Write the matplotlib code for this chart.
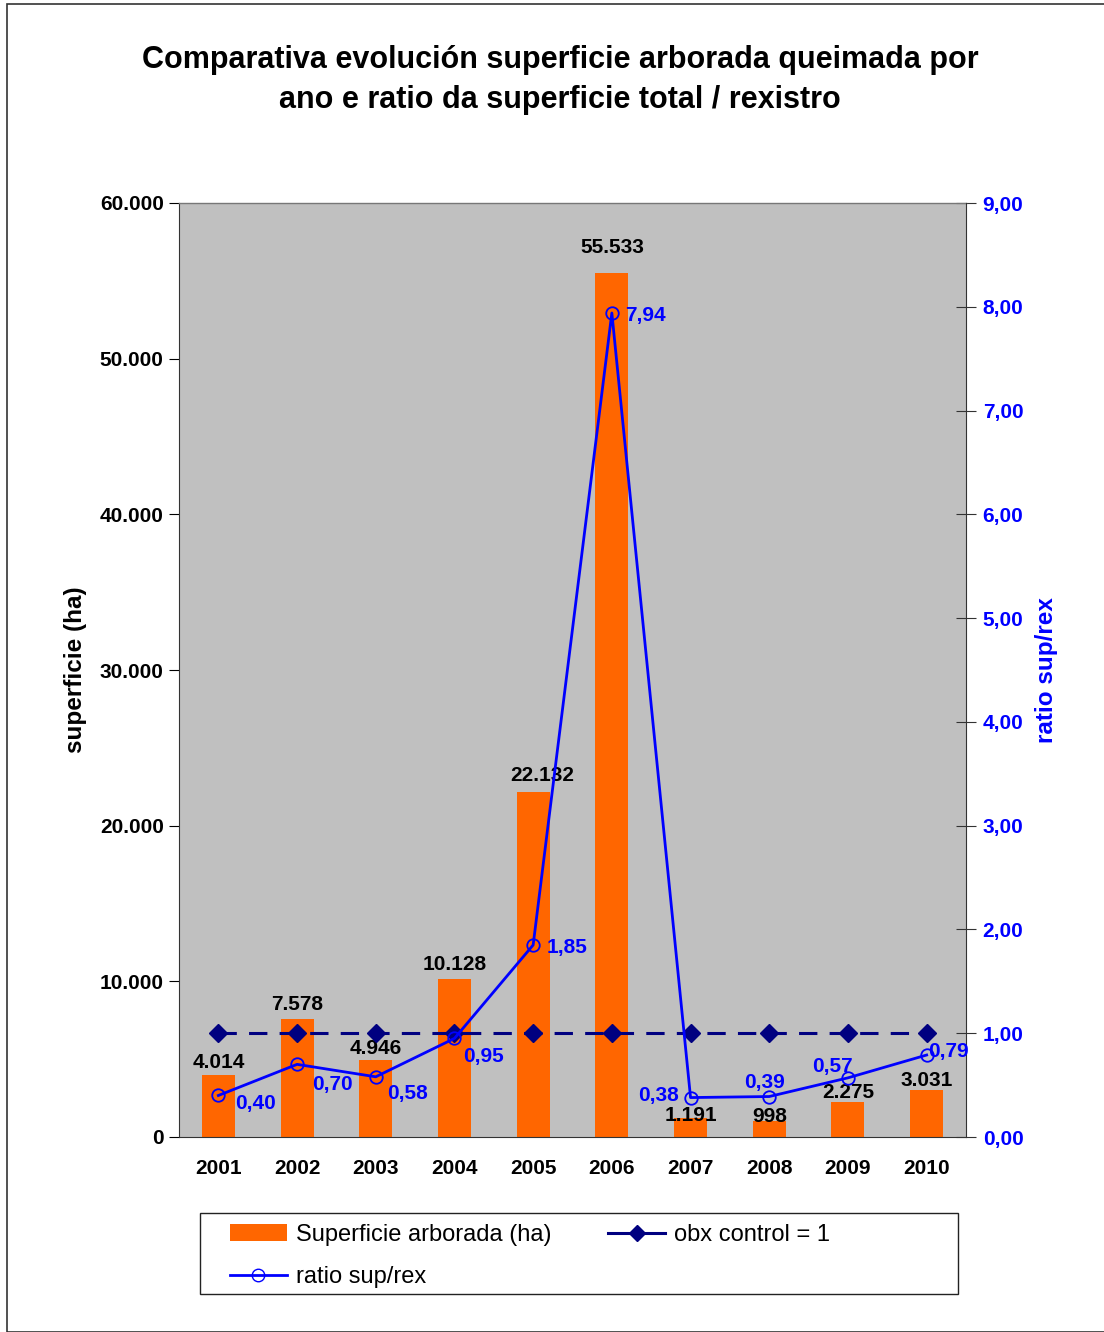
import matplotlib
matplotlib.use("Agg")
import matplotlib.pyplot as plt
from matplotlib.lines import Line2D
from matplotlib.patches import Rectangle

plt.rcParams['font.family'] = ['Liberation Sans', 'DejaVu Sans']

years = ['2001', '2002', '2003', '2004', '2005', '2006', '2007', '2008', '2009', '2010']
superficie = [4014, 7578, 4946, 10128, 22132, 55533, 1191, 998, 2275, 3031]
ratio = [0.40, 0.70, 0.58, 0.95, 1.85, 7.94, 0.38, 0.39, 0.57, 0.79]
control = [1, 1, 1, 1, 1, 1, 1, 1, 1, 1]
left_ticks = [0, 10000, 20000, 30000, 40000, 50000, 60000]
right_ticks = [0, 1, 2, 3, 4, 5, 6, 7, 8, 9]

# label offsets in pixels (style only)
ratio_offsets = [(37, -8), (35, -20), (32, -17), (29, -18), (34, -2),
                 (34, -2), (-32, 2), (-5, 14), (-16, 11), (22, 4)]
bar_label_offsets = [(0, 12), (0, 15), (0, 12), (0, 15), (9, 17),
                     (0, 25), (0, 3), (0, 5), (0, 9), (0, 9)]

def fmt_thousands(v):
    return f"{int(v):,}".replace(",", ".")

def fmt_dec(v):
    return f"{v:.2f}".replace(".", ",")

fig = plt.figure(figsize=(11.04, 13.32), dpi=100)
fig.patch.set_facecolor('white')

# figure border
fig.patches.append(Rectangle((7/1104, 0), 1.2, 1 - 4/1332, transform=fig.transFigure,
                             fill=False, edgecolor='#333333', linewidth=1.2))

ax = fig.add_axes([179/1104, 1 - 1137/1332, 787/1104, 934/1332])
ax.set_facecolor('#C0C0C0')
x = list(range(len(years)))
bars = ax.bar(x, superficie, width=0.42, color='#FF6600', zorder=2,
              label='Superficie arborada (ha)')
ax.set_xlim(-0.5, len(years) - 0.5)
ax.set_ylim(0, 60000)
ax.set_yticks(left_ticks)
ax.set_yticklabels([fmt_thousands(t) for t in left_ticks], fontsize=15, fontweight='bold')
ax.set_xticks(x)
ax.set_xticklabels(years, fontsize=15, fontweight='bold')
ax.tick_params(axis='x', length=0, pad=16)
ax.tick_params(axis='y', direction='out', length=7, pad=4)
for s in ['top', 'right']:
    ax.spines[s].set_visible(False)
ax.spines['left'].set_color('#333333')
ax.spines['bottom'].set_color('#333333')
ax.set_ylabel('superficie (ha)', fontsize=17.5, fontweight='bold', labelpad=9)

for xi, v, (dx, dy) in zip(x, superficie, bar_label_offsets):
    ax.annotate(fmt_thousands(v), (xi, v), xytext=(dx, dy), textcoords='offset pixels',
                ha='center', va='center', fontsize=15, fontweight='bold', color='black', zorder=5)

ax2 = ax.twinx()
ax2.set_ylim(0, 9)
ax2.set_yticks(right_ticks)
ax2.set_yticklabels([fmt_dec(t) for t in right_ticks], fontsize=15, fontweight='bold', color='#0000FF')
ax2.tick_params(axis='y', direction='inout', length=14, pad=5, colors='#333333', labelcolor='#0000FF')
for s in ['top', 'left', 'bottom']:
    ax2.spines[s].set_visible(False)
ax2.spines['right'].set_color('#333333')
ax2.set_ylabel('ratio sup/rex', fontsize=17.5, fontweight='bold', color='#0000FF', labelpad=8)

ax2.plot(x, control, color='#000080', linestyle=(0, (6, 4)), linewidth=2.2,
         marker='D', markersize=9, markerfacecolor='#000080', markeredgecolor='#000080',
         zorder=3, label='obx control = 1')
ax2.plot(x, ratio, color='#0000FF', linewidth=2, marker='o', markersize=9,
         markerfacecolor='none', markeredgecolor='#0000FF', markeredgewidth=1.3,
         zorder=4, label='ratio sup/rex')
ax2.plot([-0.5, 9.5], [9, 9], color='#777777', linewidth=1, clip_on=False)

for xi, v, (dx, dy) in zip(x, ratio, ratio_offsets):
    ax2.annotate(fmt_dec(v), (xi, v), xytext=(dx, dy), textcoords='offset pixels',
                 ha='center', va='center', fontsize=15, fontweight='bold', color='#0000FF', zorder=6)

fig.text(560/1104, 1 - 80/1332,
         'Comparativa evolución superficie arborada queimada por\nano e ratio da superficie total / rexistro',
         ha='center', va='center', fontsize=22, fontweight='bold', linespacing=1.45)

# legend box
fig.patches.append(Rectangle((200/1104, 1 - 1294/1332), 758/1104, 81/1332,
                             transform=fig.transFigure, fill=False,
                             edgecolor='#222222', linewidth=1))

handles = [bars,
           Line2D([], [], color='#0000FF', linewidth=2, marker='o', markersize=9,
                  markerfacecolor='none', markeredgecolor='#0000FF'),
           Line2D([], [], color='#000080', linewidth=2.2, marker='D', markersize=8,
                  markerfacecolor='#000080')]
labels = ['Superficie arborada (ha)', 'ratio sup/rex', 'obx control = 1']
leg = fig.legend(handles, labels, ncol=2, loc='upper left',
                 bbox_to_anchor=(230/1104, 1 - 1224/1332), fontsize=17,
                 frameon=False, handlelength=2.4, borderpad=0, borderaxespad=0,
                 columnspacing=2.4, labelspacing=0.85, handletextpad=0.4)

fig.savefig('out.png', dpi=100, facecolor='white')
